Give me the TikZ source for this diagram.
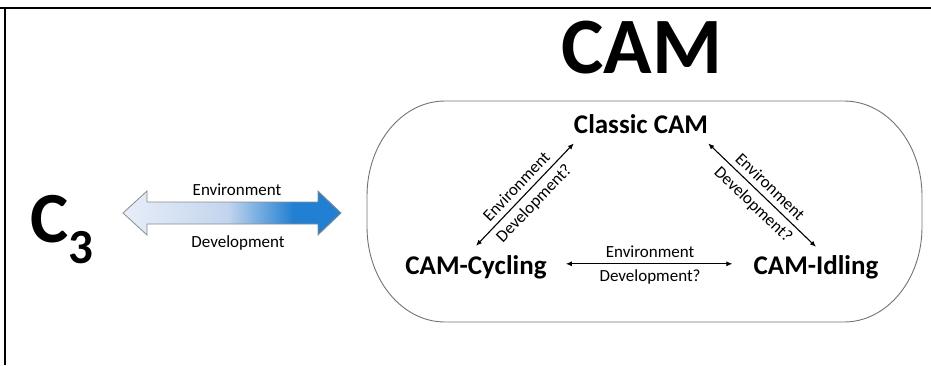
\documentclass[tikz,border=0pt]{standalone}
\usepackage{fontspec}
\setmainfont{Carlito}
\usetikzlibrary{arrows.meta}
\definecolor{gradA}{RGB}{232,238,248}
\definecolor{gradB}{RGB}{194,213,238}
\definecolor{gradC}{RGB}{34,128,210}
\pgfdeclarehorizontalshading{blockgrad}{100bp}{color(0bp)=(gradA); color(25bp)=(gradA); color(49bp)=(gradB); color(64bp)=(gradC); color(75bp)=(gradC); color(100bp)=(gradC)}
\begin{document}
\begin{tikzpicture}[
        x=1pt, y=-1pt,
        title/.style={font=\bfseries\fontsize{80}{90}\selectfont, inner sep=0pt, anchor=base},
        state/.style={font=\bfseries\fontsize{27}{32}\selectfont, inner sep=3pt, anchor=base},
        label/.style={font=\fontsize{17}{20}\selectfont, inner sep=5.5pt},
        link/.style={{Latex[length=6pt,width=5pt]}-{Latex[length=6pt,width=5pt]}, line width=1.1pt}
    ]
    \useasboundingbox (0,0) rectangle (931,365);
    \draw[line width=2.2pt] (0,8) -- (931,8);
    \draw[line width=2pt] (4.5,8) -- (4.5,365);
    \node[title] (camtitle) at (642,73) {CAM};
    \draw[black!55, line width=0.9pt] (445,101) -- (844,101)
        arc[start angle=-90, end angle=0, x radius=78, y radius=95] -- (922,227)
        arc[start angle=0, end angle=90, x radius=78, y radius=95] -- (445,322)
        arc[start angle=90, end angle=180, x radius=78, y radius=95] -- (367,196)
        arc[start angle=180, end angle=270, x radius=78, y radius=95] -- cycle;
    \node[state] (classic) at (641,133) {Classic CAM};
    \node[state] (cycling) at (476,274) {CAM-Cycling};
    \node[state] (idling) at (816,274) {CAM-Idling};
    \draw[link] ([yshift=6pt]cycling.north) -- ([xshift=3pt,yshift=-7pt]classic.south west)
        node[label, midway, sloped, above] {Environment}
        node[label, midway, sloped, below] {Development?};
    \draw[link] ([xshift=-3pt,yshift=-7pt]classic.south east) -- ([yshift=5pt]idling.north)
        node[label, midway, sloped, above] {Environment}
        node[label, midway, sloped, below] {Development?};
    \draw[link, shorten <=16pt, shorten >=18pt] ([yshift=3pt]cycling.east) -- ([yshift=3pt]idling.west)
        node[label, midway, above] {Environment}
        node[label, midway, below] {Development?};
    \node[font=\bfseries\fontsize{72}{80}\selectfont, inner sep=0pt, anchor=base west] (cthree) at (30,242)
        {C\raisebox{-21pt}{\fontsize{49}{55}\selectfont 3}};
    \shadedraw[shading=blockgrad, draw=black!45, line width=0.8pt]
        (123,213) -- (147,191) -- (147,202) -- (318,202) -- (318,191) -- (341,213)
        -- (318,235) -- (318,224) -- (147,224) -- (147,235) -- cycle;
    \node[label, inner sep=0pt, anchor=base] (envleft) at (237,195) {Environment};
    \node[label, inner sep=0pt, anchor=base] (devleft) at (238,247) {Development};
\end{tikzpicture}
\end{document}
